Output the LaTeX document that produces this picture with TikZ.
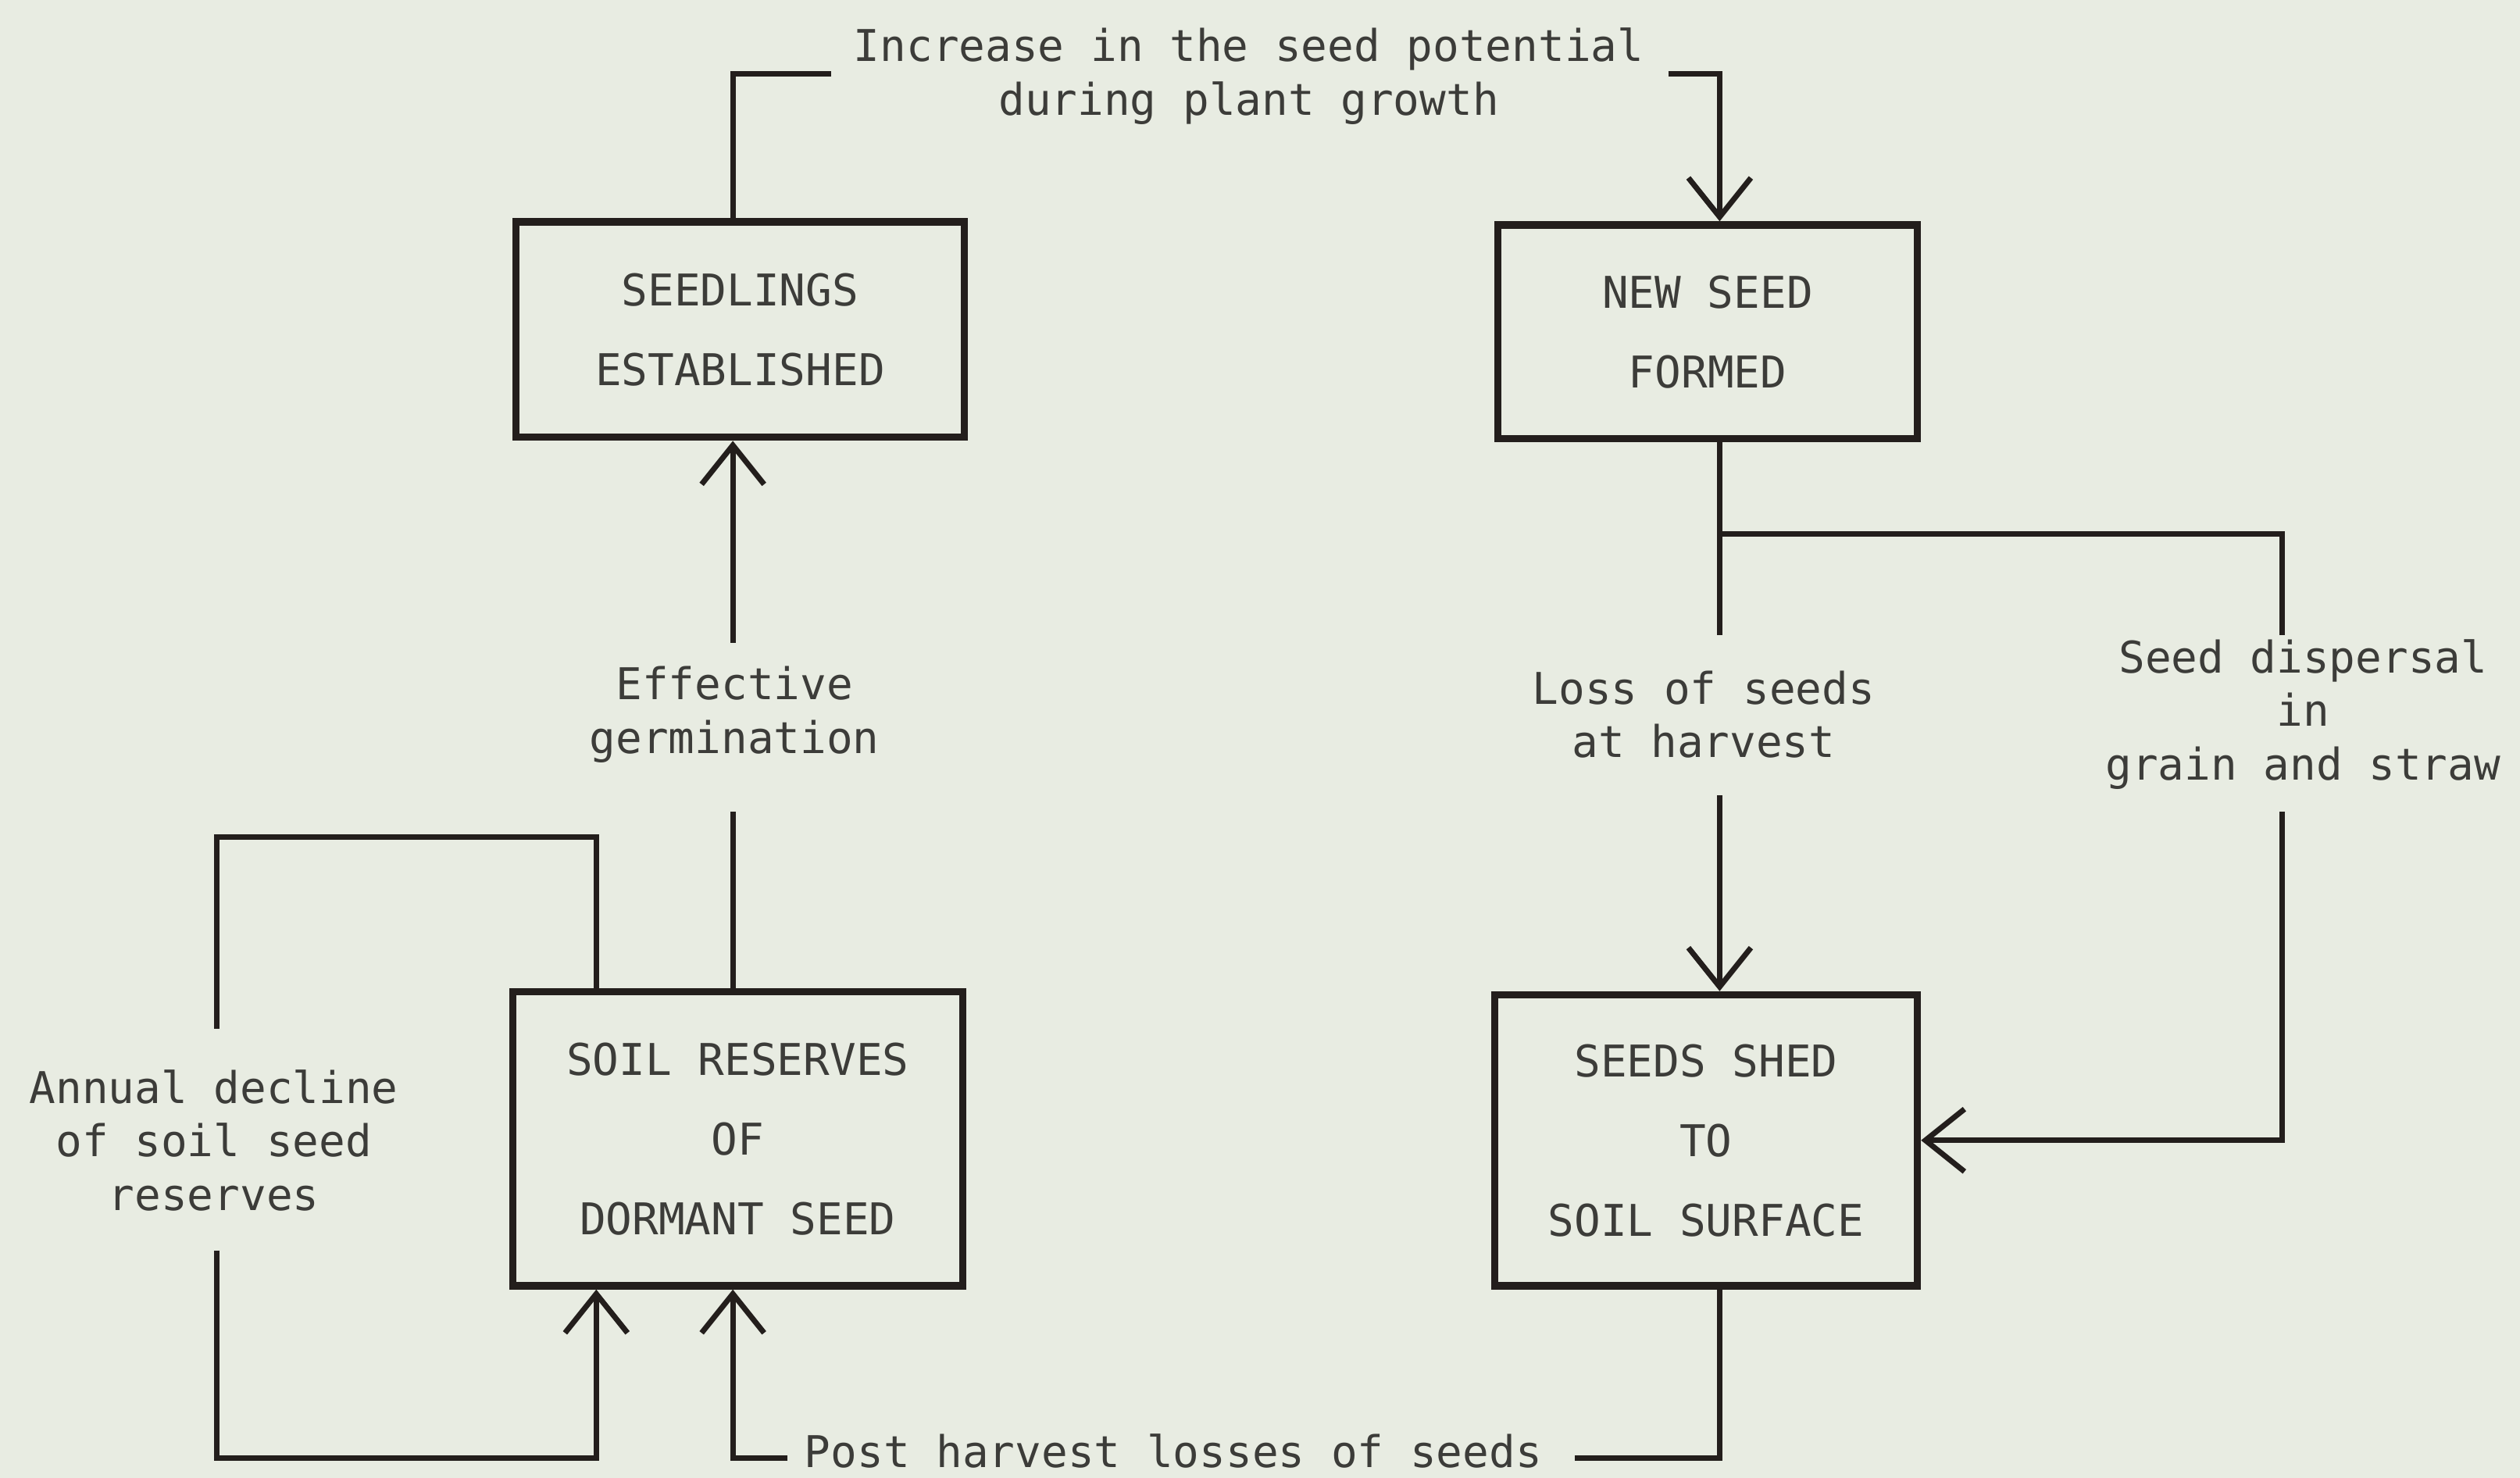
\documentclass[tikz,border=0pt]{standalone}
\usepackage{fontspec}
\setmonofont{DejaVu Sans Mono}
\usetikzlibrary{arrows.meta}
\definecolor{paper}{RGB}{232,236,226}
\definecolor{ink}{RGB}{35,30,28}
\definecolor{txt}{RGB}{60,60,57}
\newcommand\boxfont{\ttfamily\fontsize{11.2}{20.4}\selectfont}
\newcommand\lblfont{\ttfamily\fontsize{11.2}{13.7}\selectfont}
\begin{document}
\begin{tikzpicture}[x=0.4115pt,y=-0.4115pt,
  box/.style={draw=ink, line width=1.9pt, rectangle, inner sep=0pt, align=center, font=\boxfont, text=txt},
  lbl/.style={align=center, font=\lblfont, text=txt, inner sep=0pt},
  conn/.style={draw=ink, line width=1.4pt},
  arr/.style={conn, -{Straight Barb[length=10pt,width=16pt]}}]
\fill[paper] (0,0) rectangle (1568,919.6);
\useasboundingbox (0,0) rectangle (1568,919.6);

% boxes
\node[box, minimum width={279*0.4115pt}, minimum height={134*0.4115pt}] (A) at (460.5,205) {SEEDLINGS\\ESTABLISHED};
\node[box, minimum width={261*0.4115pt}, minimum height={133*0.4115pt}] (B) at (1062.5,206.5) {NEW SEED\\FORMED};
\node[box, minimum width={280*0.4115pt}, minimum height={183*0.4115pt}] (C) at (459,708.5) {SOIL RESERVES\\OF\\DORMANT SEED};
\node[box, minimum width={263*0.4115pt}, minimum height={181*0.4115pt}] (D) at (1061.5,709.5) {SEEDS SHED\\TO\\SOIL SURFACE};

% labels
\node[lbl] (inc) at (777,47.5) {Increase in the seed potential\\during plant growth};
\node[lbl] (eff) at (457,444.5) {Effective\\germination};
\node[lbl] (loss) at (1060,444.5) {Loss of seeds\\at harvest};
\node[lbl] (disp) at (1433,444.5) {Seed dispersal\\in\\grain and straw};
\node[lbl] (ann) at (133,709.5) {Annual decline\\of soil seed\\reserves};
\node[lbl] (post) at (730,903) {Post harvest losses of seeds};

% helper coordinates
\coordinate (xa) at (456,0);
\coordinate (xb) at (1070,0);
\coordinate (xl) at (371,0);
\coordinate (g1a) at (517,46);
\coordinate (g1b) at (1038,46);
\coordinate (g2a) at (456,505);
\coordinate (g2b) at (456,400);
\coordinate (g3a) at (1070,395);
\coordinate (g3b) at (1070,495);
\coordinate (br) at (1070,332);
\coordinate (g4a) at (1420,395);
\coordinate (g4b) at (1420,505);
\coordinate (lt) at (135,521);
\coordinate (g5a) at (135,640);
\coordinate (g5b) at (135,778);
\coordinate (lb) at (135,907);
\coordinate (g6a) at (980,907);
\coordinate (g6b) at (490,907);

% connectors
\draw[conn] (A.north -| xa) |- (g1a);
\draw[arr] (g1b) -| (B.north -| xb);
\draw[conn] (C.north -| xa) -- (g2a);
\draw[arr] (g2b) -- (A.south -| xa);
\draw[conn] (B.south -| xb) -- (g3a);
\draw[arr] (g3b) -- (D.north -| xb);
\draw[conn] (br) -| (g4a);
\draw[arr] (g4b) |- (D.east);
\draw[conn] (C.north -| xl) |- (lt) -- (g5a);
\draw[arr] (g5b) -- (lb) -| (C.south -| xl);
\draw[conn] (D.south -| xb) |- (g6a);
\draw[arr] (g6b) -| (C.south -| xa);
\end{tikzpicture}
\end{document}
